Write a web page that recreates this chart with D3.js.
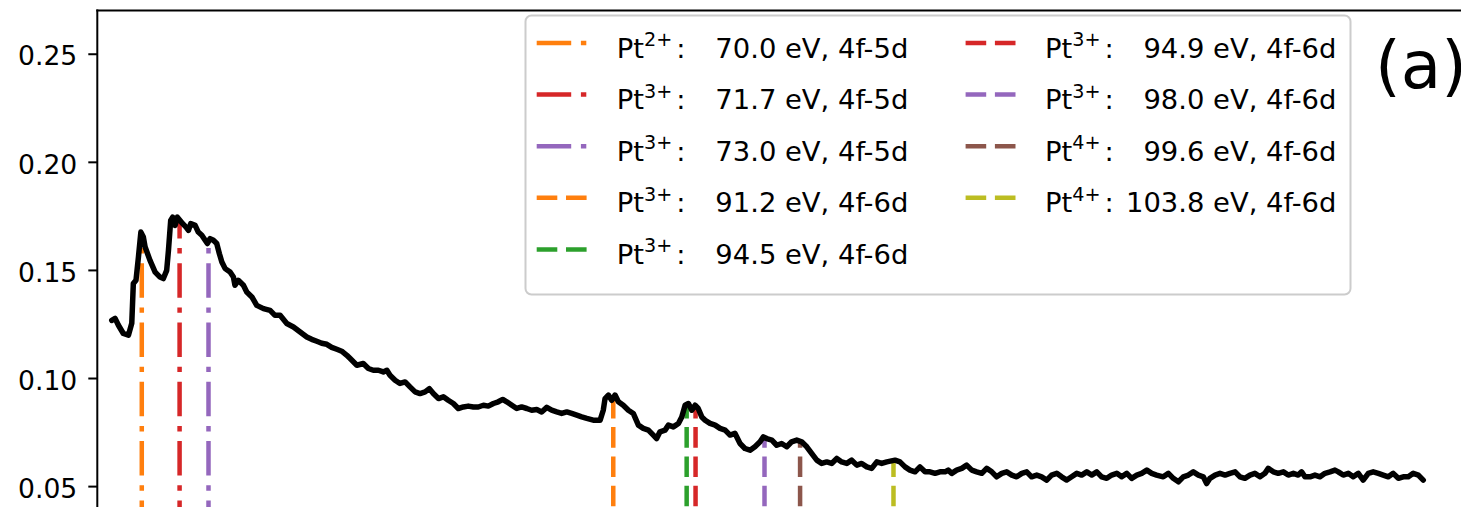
<!DOCTYPE html>
<html>
<head>
<meta charset="utf-8">
<script src="https://cdn.jsdelivr.net/npm/d3@7"></script>
<style>
  html, body { margin: 0; padding: 0; background: #ffffff; }
  svg { display: block; }
  text { font-family: "DejaVu Sans", "Noto Sans", sans-serif; fill: #000; }
</style>
</head>
<body>
<svg id="chart" width="1461" height="507"></svg>
<script>
// Photon energy (eV) of the measured spectrum
const energy = [
  68.65, 68.80, 68.95, 69.17, 69.40, 69.55, 69.62, 69.74, 69.85, 69.96,
  70.07, 70.15, 70.37, 70.60, 70.82, 70.97, 71.12, 71.20, 71.30, 71.39,
  71.50, 71.60, 71.72, 71.84, 71.99, 72.10, 72.20, 72.40, 72.54, 72.70,
  72.85, 72.95, 73.07, 73.22, 73.37, 73.49, 73.60, 73.75, 73.97, 74.12,
  74.19, 74.34, 74.57, 74.72, 74.95, 75.17, 75.47, 75.77, 75.99, 76.22,
  76.52, 76.82, 77.12, 77.42, 77.64, 77.87, 78.09, 78.32, 78.54, 78.77,
  78.99, 79.22, 79.37, 79.67, 79.96, 80.19, 80.41, 80.64, 80.86, 81.02,
  81.16, 81.39, 81.61, 81.84, 82.06, 82.29, 82.51, 82.74, 82.93, 83.11,
  83.34, 83.56, 83.78, 84.01, 84.23, 84.46, 84.68, 84.91, 85.13, 85.36,
  85.58, 85.81, 86.03, 86.23, 86.41, 86.64, 86.86, 87.08, 87.31, 87.53,
  87.76, 87.98, 88.21, 88.43, 88.66, 88.88, 89.11, 89.33, 89.56, 89.78,
  90.01, 90.30, 90.61, 90.75, 90.83, 90.98, 91.13, 91.28, 91.43, 91.65,
  91.88, 92.10, 92.33, 92.55, 92.78, 93.00, 93.15, 93.30, 93.53, 93.68,
  93.90, 94.13, 94.28, 94.43, 94.58, 94.73, 94.88, 95.02, 95.18, 95.33,
  95.55, 95.78, 96.00, 96.23, 96.45, 96.67, 96.90, 97.12, 97.35, 97.57,
  97.80, 97.95, 98.10, 98.33, 98.55, 98.77, 99.00, 99.22, 99.45, 99.67,
  99.90, 100.12, 100.35, 100.57, 100.80, 101.02, 101.25, 101.47, 101.70, 101.92,
  102.15, 102.37, 102.60, 102.82, 103.05, 103.27, 103.50, 103.87, 104.09, 104.32,
  104.54, 104.77, 104.99, 105.22, 105.44, 105.67, 105.89, 106.12, 106.26, 106.42,
  106.64, 106.87, 107.09, 107.32, 107.54, 107.77, 107.99, 108.22, 108.44, 108.67,
  108.89, 109.12, 109.34, 109.57, 109.79, 110.01, 110.24, 110.46, 110.69, 110.91,
  111.14, 111.36, 111.59, 111.81, 112.04, 112.26, 112.49, 112.71, 112.94, 113.16,
  113.39, 113.61, 113.84, 114.06, 114.29, 114.51, 114.74, 114.96, 115.19, 115.41,
  115.63, 115.93, 116.16, 116.38, 116.61, 116.83, 117.06, 117.28, 117.51, 117.73,
  117.88, 118.03, 118.26, 118.48, 118.71, 118.93, 119.16, 119.38, 119.60, 119.83,
  120.05, 120.28, 120.50, 120.65, 120.88, 121.10, 121.33, 121.55, 121.78, 122.00,
  122.15, 122.30, 122.53, 122.75, 122.98, 123.20, 123.43, 123.65, 123.80, 124.02,
  124.25, 124.47, 124.70, 124.92, 125.15, 125.37, 125.60, 125.82, 126.05, 126.27,
  126.50, 126.72, 126.95, 127.17, 127.40, 127.62
];

// Measured signal at each energy
const intensity = [
  0.1267, 0.1276, 0.1244, 0.1206, 0.1198, 0.1253, 0.1437, 0.1452, 0.1560, 0.1675,
  0.1652, 0.1606, 0.1544, 0.1490, 0.1467, 0.1460, 0.1498, 0.1591, 0.1729, 0.1744,
  0.1706, 0.1744, 0.1729, 0.1714, 0.1698, 0.1683, 0.1714, 0.1706, 0.1675, 0.1660,
  0.1637, 0.1622, 0.1645, 0.1637, 0.1622, 0.1575, 0.1537, 0.1506, 0.1490, 0.1467,
  0.1429, 0.1452, 0.1429, 0.1398, 0.1375, 0.1336, 0.1321, 0.1313, 0.1290, 0.1290,
  0.1252, 0.1236, 0.1213, 0.1190, 0.1179, 0.1170, 0.1161, 0.1156, 0.1142, 0.1133,
  0.1124, 0.1105, 0.1090, 0.1059, 0.1067, 0.1044, 0.1036, 0.1036, 0.1028, 0.1036,
  0.1013, 0.0990, 0.0975, 0.0982, 0.0959, 0.0936, 0.0928, 0.0936, 0.0951, 0.0928,
  0.0905, 0.0913, 0.0897, 0.0882, 0.0859, 0.0866, 0.0870, 0.0866, 0.0866, 0.0874,
  0.0870, 0.0882, 0.0890, 0.0901, 0.0890, 0.0874, 0.0859, 0.0866, 0.0859, 0.0851,
  0.0854, 0.0843, 0.0864, 0.0851, 0.0843, 0.0836, 0.0843, 0.0836, 0.0828, 0.0820,
  0.0813, 0.0805, 0.0805, 0.0851, 0.0905, 0.0921, 0.0897, 0.0921, 0.0890, 0.0874,
  0.0851, 0.0836, 0.0782, 0.0767, 0.0759, 0.0736, 0.0720, 0.0751, 0.0759, 0.0782,
  0.0774, 0.0790, 0.0820, 0.0874, 0.0882, 0.0851, 0.0874, 0.0859, 0.0820, 0.0805,
  0.0790, 0.0782, 0.0767, 0.0759, 0.0736, 0.0744, 0.0697, 0.0674, 0.0666, 0.0682,
  0.0705, 0.0728, 0.0720, 0.0713, 0.0689, 0.0697, 0.0682, 0.0705, 0.0713, 0.0705,
  0.0682, 0.0651, 0.0620, 0.0605, 0.0612, 0.0605, 0.0628, 0.0612, 0.0605, 0.0620,
  0.0597, 0.0605, 0.0589, 0.0582, 0.0612, 0.0605, 0.0612, 0.0620, 0.0612, 0.0589,
  0.0574, 0.0566, 0.0589, 0.0566, 0.0566, 0.0559, 0.0566, 0.0566, 0.0574, 0.0559,
  0.0574, 0.0582, 0.0597, 0.0574, 0.0566, 0.0559, 0.0582, 0.0566, 0.0543, 0.0559,
  0.0566, 0.0551, 0.0543, 0.0559, 0.0566, 0.0543, 0.0551, 0.0543, 0.0528, 0.0551,
  0.0559, 0.0543, 0.0528, 0.0543, 0.0559, 0.0551, 0.0566, 0.0551, 0.0566, 0.0543,
  0.0536, 0.0551, 0.0559, 0.0543, 0.0559, 0.0536, 0.0551, 0.0559, 0.0574, 0.0559,
  0.0551, 0.0543, 0.0559, 0.0536, 0.0520, 0.0543, 0.0551, 0.0566, 0.0551, 0.0543,
  0.0512, 0.0536, 0.0551, 0.0559, 0.0551, 0.0559, 0.0566, 0.0543, 0.0536, 0.0551,
  0.0559, 0.0543, 0.0559, 0.0582, 0.0566, 0.0559, 0.0566, 0.0551, 0.0559, 0.0551,
  0.0566, 0.0543, 0.0543, 0.0551, 0.0543, 0.0559, 0.0566, 0.0574, 0.0566, 0.0551,
  0.0559, 0.0543, 0.0559, 0.0528, 0.0559, 0.0566, 0.0559, 0.0551, 0.0543, 0.0559,
  0.0536, 0.0543, 0.0543, 0.0559, 0.0551, 0.0528
];

// Assigned Pt transitions
const transitionEnergy = [70.0, 71.7, 73.0, 91.2, 94.5, 94.9, 98.0, 99.6, 103.8];
const transitionCharge = ["2+", "3+", "3+", "3+", "3+", "3+", "3+", "4+", "4+"];
const transitionLabel = [
  "70.0 eV, 4f-5d", "71.7 eV, 4f-5d", "73.0 eV, 4f-5d",
  "91.2 eV, 4f-6d", "94.5 eV, 4f-6d", "94.9 eV, 4f-6d",
  "98.0 eV, 4f-6d", "99.6 eV, 4f-6d", "103.8 eV, 4f-6d"
];
const transitionShell = ["4f-5d", "4f-5d", "4f-5d", "4f-6d", "4f-6d", "4f-6d", "4f-6d", "4f-6d", "4f-6d"];
const transitionColor = ["#ff7f0e", "#d62728", "#9467bd", "#ff7f0e", "#2ca02c", "#d62728", "#9467bd", "#8c564b", "#bcbd22"];

const yTickValues = [0.05, 0.10, 0.15, 0.20, 0.25];
const panelLabel = "(a)";

// ---- layout ----
const svg = d3.select("#chart");
const plotLeft = 97.3, plotTop = 10.5;
const x = d3.scaleLinear().domain([68, 130]).range([plotLeft, plotLeft + 62 * 22.24]);
const y = d3.scaleLinear().domain([0, 0.27]).range([594.2, plotTop]);

const dashStyle = { "4f-5d": "34.5,9.7,5.4,9.7", "4f-6d": "20.6,8.7" };
const markWidth = 4.5;

// linear interpolation of the spectrum at a given energy
const bisect = d3.bisector(d => d).left;
function signalAt(e) {
  const i = Math.max(1, Math.min(energy.length - 1, bisect(energy, e)));
  const e0 = energy[i - 1], e1 = energy[i];
  const t = (e - e0) / (e1 - e0);
  return intensity[i - 1] + t * (intensity[i] - intensity[i - 1]);
}

const transitions = transitionEnergy.map((e, i) => ({
  e, charge: transitionCharge[i], label: transitionLabel[i],
  shell: transitionShell[i], color: transitionColor[i]
}));

// ---- vertical transition markers (from zero up to the spectrum) ----
svg.append("g").selectAll("line").data(transitions).join("line")
  .attr("x1", d => x(d.e)).attr("x2", d => x(d.e))
  .attr("y1", y(0)).attr("y2", d => y(signalAt(d.e)))
  .attr("stroke", d => d.color)
  .attr("stroke-width", markWidth)
  .attr("stroke-dasharray", d => dashStyle[d.shell])
  .attr("stroke-linecap", "butt");

// ---- spectrum ----
const series = energy.map((e, i) => [e, intensity[i]]);
svg.append("path")
  .datum(series)
  .attr("fill", "none")
  .attr("stroke", "#000")
  .attr("stroke-width", 5.5)
  .attr("stroke-linejoin", "round")
  .attr("stroke-linecap", "round")
  .attr("d", d3.line().x(d => x(d[0])).y(d => y(d[1])));

// ---- axes frame ----
const yAxis = d3.axisLeft(y).tickValues(yTickValues).tickFormat(d3.format(".2f"))
  .tickSize(9).tickPadding(11);
const gy = svg.append("g").attr("transform", `translate(${plotLeft},0)`).call(yAxis);
gy.select(".domain").remove();
gy.selectAll(".tick line").attr("stroke", "#000").attr("stroke-width", 2);
gy.selectAll(".tick text")
  .attr("font-size", 26.6)
  .attr("font-family", "DejaVu Sans")
  .attr("fill", "#000")
  .attr("dy", "0.42em");

svg.append("line")
  .attr("x1", plotLeft).attr("x2", plotLeft)
  .attr("y1", plotTop - 1).attr("y2", y(0))
  .attr("stroke", "#000").attr("stroke-width", 2);
svg.append("line")
  .attr("x1", plotLeft - 1).attr("x2", x(130))
  .attr("y1", plotTop).attr("y2", plotTop)
  .attr("stroke", "#000").attr("stroke-width", 2);

// ---- legend ----
const legend = svg.append("g");
legend.append("rect")
  .attr("x", 525.5).attr("y", 15.5).attr("width", 825).attr("height", 279)
  .attr("rx", 6).attr("ry", 6)
  .attr("fill", "#ffffff").attr("fill-opacity", 0.8)
  .attr("stroke", "#cccccc").attr("stroke-width", 2);

const legendFont = 27.4;
const rowGap = 51.6;
const columns = [
  { handleX: 536.7, textX: 616.7, valueEnd: 908.3 },
  { handleX: 965.6, textX: 1045.0, valueEnd: 1336.4 }
];
transitions.forEach((d, i) => {
  const col = columns[i < 5 ? 0 : 1];
  const row = i < 5 ? i : i - 5;
  const hy = 43 + row * rowGap;
  const base = hy + 14.5;
  const item = legend.append("g");
  item.append("line")
    .attr("x1", col.handleX).attr("x2", col.handleX + 50)
    .attr("y1", hy).attr("y2", hy)
    .attr("stroke", d.color).attr("stroke-width", markWidth)
    .attr("stroke-dasharray", dashStyle[d.shell]);
  item.append("text").attr("x", col.textX).attr("y", base)
    .attr("font-size", legendFont).text("Pt");
  item.append("text").attr("x", col.textX + 27.3).attr("y", base - 11.6)
    .attr("font-size", legendFont * 0.7).text(d.charge);
  item.append("text").attr("x", col.textX + 59.5).attr("y", base)
    .attr("font-size", legendFont).text(":");
  item.append("text").attr("x", col.valueEnd).attr("y", base)
    .attr("text-anchor", "end")
    .attr("font-size", legendFont).text(d.label);
});

// ---- panel label ----
svg.append("text")
  .attr("x", 1375).attr("y", 88.3)
  .attr("font-size", 66)
  .text(panelLabel);
</script>
</body>
</html>
